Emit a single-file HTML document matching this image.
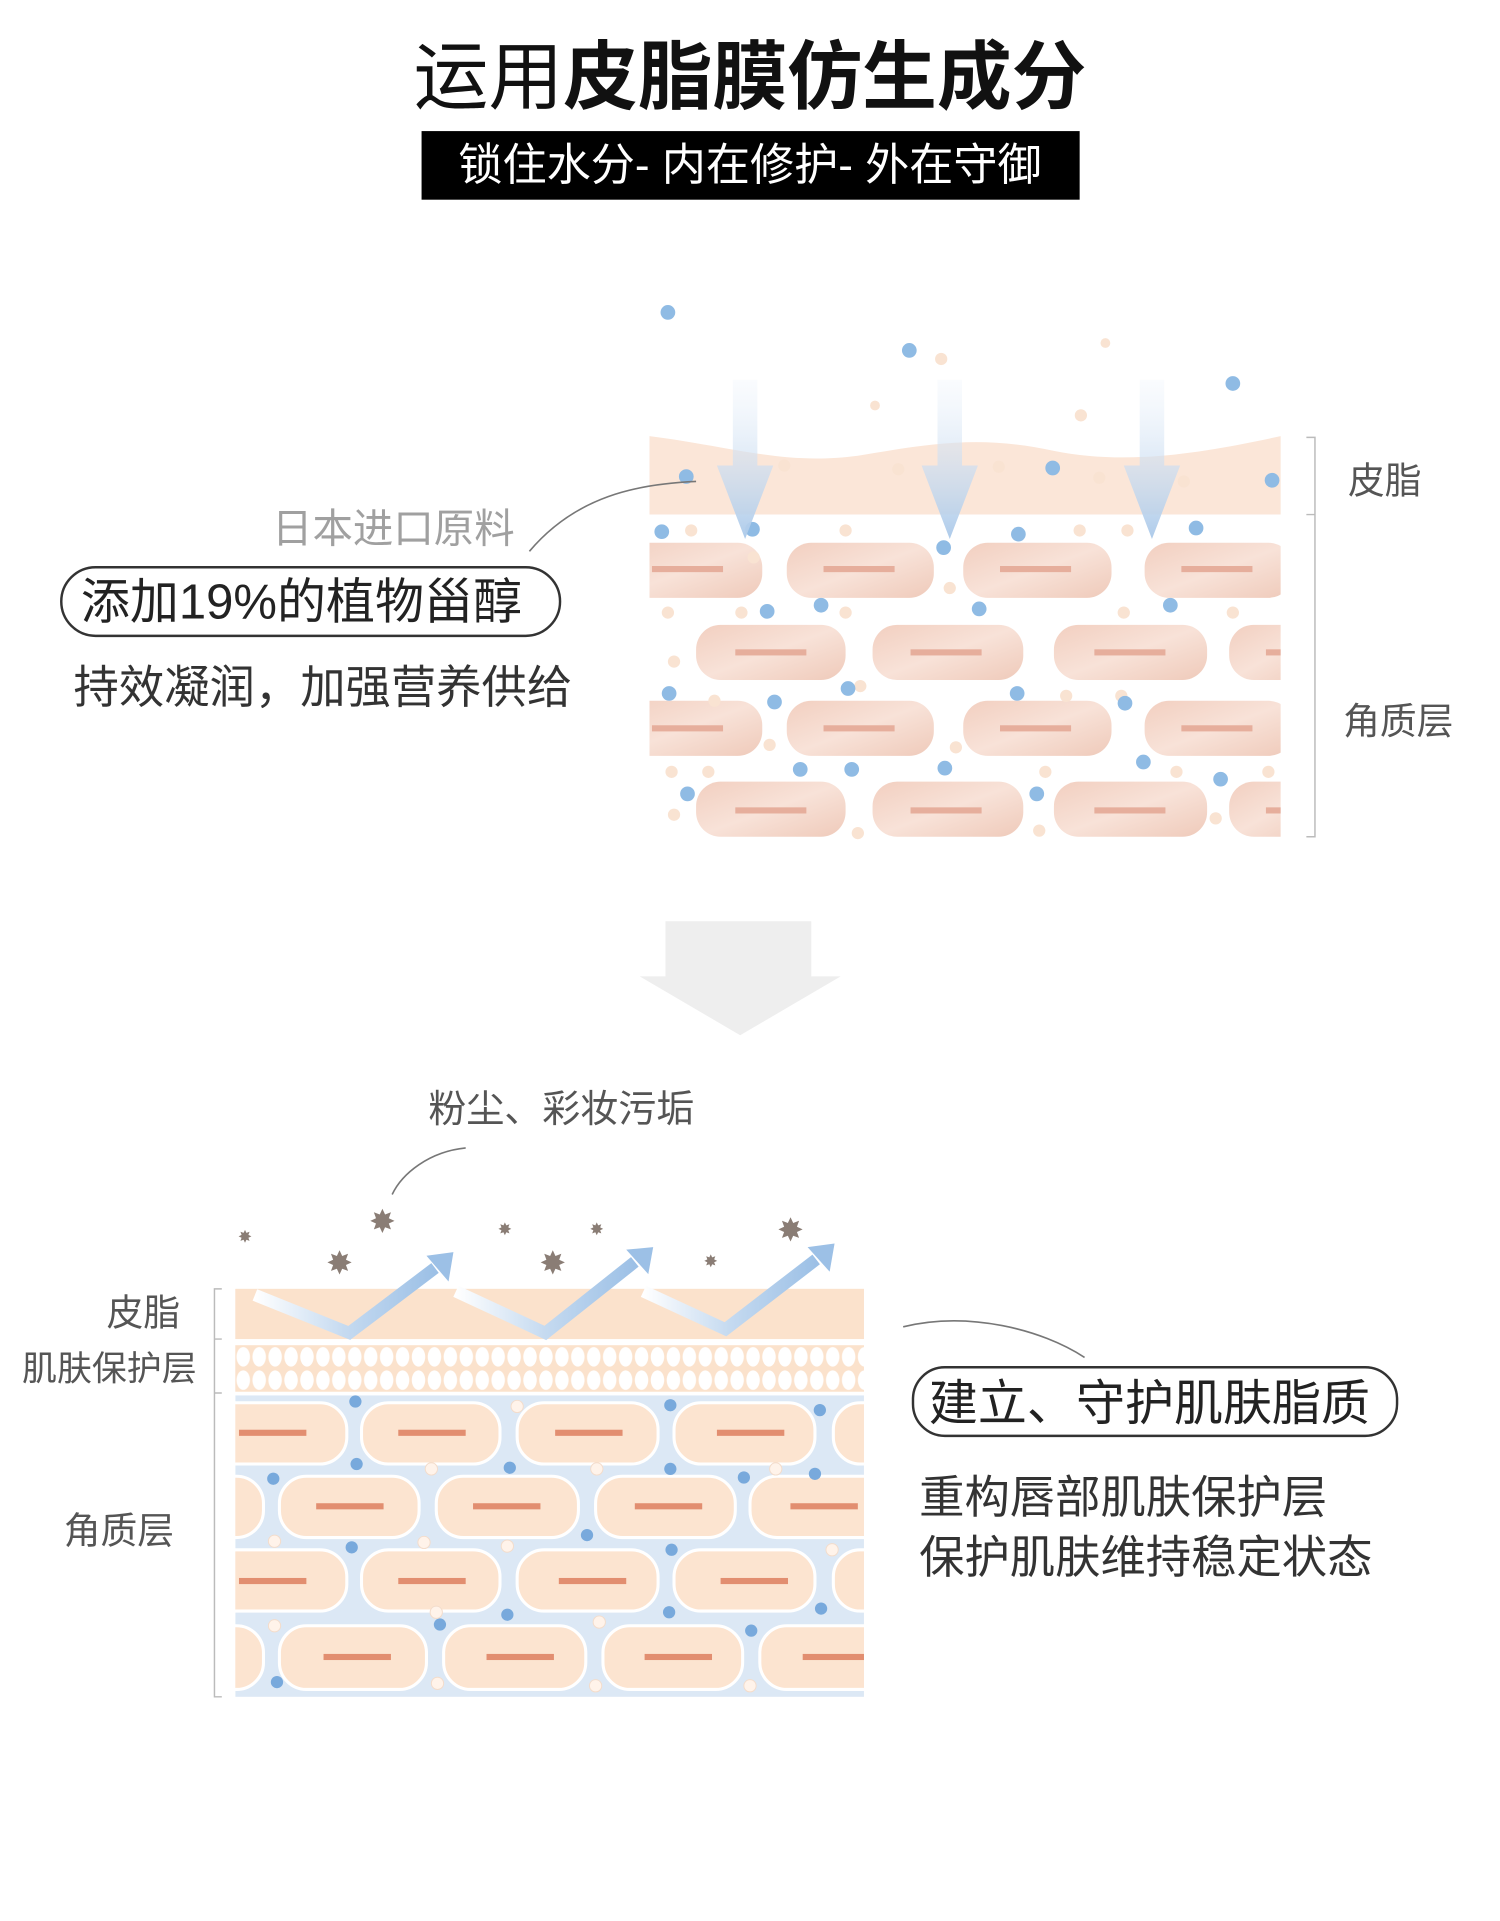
<!DOCTYPE html>
<html><head><meta charset="utf-8"><style>
html,body{margin:0;padding:0;background:#fff;}
svg{display:block;}
text{font-family:"Liberation Sans","Noto Sans CJK SC",sans-serif;}
</style></head><body>
<svg width="1500" height="1921" viewBox="0 0 1224 1568" preserveAspectRatio="none" xmlns="http://www.w3.org/2000/svg">
<defs>
<linearGradient id="cellg" x1="0" y1="0" x2="1" y2="1"><stop offset="0" stop-color="#f2cfc0"/><stop offset="0.5" stop-color="#f8e2d8"/><stop offset="1" stop-color="#efcaba"/></linearGradient>
<linearGradient id="arr" x1="0" y1="0" x2="0" y2="1"><stop offset="0" stop-color="#eef4fb" stop-opacity="0.3"/><stop offset="1" stop-color="#aecbea"/></linearGradient>
<linearGradient id="zz" x1="0" y1="0" x2="1" y2="0"><stop offset="0" stop-color="#ffffff"/><stop offset="0.5" stop-color="#c5daf0"/><stop offset="1" stop-color="#9cc0e6"/></linearGradient>
<pattern id="ov" x="192" y="1098" width="13" height="19" patternUnits="userSpaceOnUse"><rect width="13" height="19" fill="#fbe2cc"/><ellipse cx="6.5" cy="9.5" rx="5.5" ry="8" fill="#fff"/></pattern>
</defs>
<!-- Title -->
<text x="612" y="84" text-anchor="middle" font-size="61" fill="#111"><tspan>运用</tspan><tspan font-weight="bold">皮脂膜仿生成分</tspan></text>
<rect x="344" y="107" width="537" height="56" fill="#000"/>
<text x="612" y="147" text-anchor="middle" font-size="36" fill="#fff">锁住水分- 内在修护- 外在守御</text>

<!-- Top diagram -->
<path d="M530 356 C600 365 640 380 700 372 C760 362 800 355 860 368 C920 380 980 370 1045 356 L1045 420 L530 420 Z" fill="#fbe6d8"/>
<g fill="url(#cellg)">
<rect x="500" y="443" width="122" height="45" rx="20"/><rect x="642" y="443" width="120" height="45" rx="20"/><rect x="786" y="443" width="121" height="45" rx="20"/><rect x="934" y="443" width="121" height="45" rx="20"/>
<rect x="568" y="510" width="122" height="45" rx="20"/><rect x="712" y="510" width="123" height="45" rx="20"/><rect x="860" y="510" width="125" height="45" rx="20"/><rect x="1003" y="510" width="80" height="45" rx="20"/>
<rect x="500" y="572" width="122" height="45" rx="20"/><rect x="642" y="572" width="120" height="45" rx="20"/><rect x="786" y="572" width="121" height="45" rx="20"/><rect x="934" y="572" width="121" height="45" rx="20"/>
<rect x="568" y="638" width="122" height="45" rx="20"/><rect x="712" y="638" width="123" height="45" rx="20"/><rect x="860" y="638" width="125" height="45" rx="20"/><rect x="1003" y="638" width="80" height="45" rx="20"/>
</g>
<rect x="495" y="430" width="35" height="260" fill="#fff"/><rect x="1045" y="430" width="45" height="260" fill="#fff"/>
<g fill="#e6ae9c">
<rect x="532" y="462" width="58" height="5"/><rect x="672" y="462" width="58" height="5"/><rect x="816" y="462" width="58" height="5"/><rect x="964" y="462" width="58" height="5"/>
<rect x="600" y="530" width="58" height="5"/><rect x="743" y="530" width="58" height="5"/><rect x="893" y="530" width="58" height="5"/><rect x="1033" y="530" width="12" height="5"/>
<rect x="532" y="592" width="58" height="5"/><rect x="672" y="592" width="58" height="5"/><rect x="816" y="592" width="58" height="5"/><rect x="964" y="592" width="58" height="5"/>
<rect x="600" y="659" width="58" height="5"/><rect x="743" y="659" width="58" height="5"/><rect x="893" y="659" width="58" height="5"/><rect x="1033" y="659" width="12" height="5"/>
</g>
<g fill="#f9e3d2">
<circle cx="768" cy="293" r="5"/><circle cx="714" cy="331" r="4"/><circle cx="882" cy="339" r="5"/><circle cx="902" cy="280" r="4"/><circle cx="640" cy="380" r="5"/><circle cx="733" cy="383" r="5"/><circle cx="815" cy="381" r="5"/><circle cx="897" cy="390" r="5"/><circle cx="966" cy="393" r="5"/>
<circle cx="564" cy="433" r="5"/><circle cx="690" cy="433" r="5"/><circle cx="881" cy="433" r="5"/><circle cx="920" cy="433" r="5"/><circle cx="615" cy="455" r="5"/><circle cx="775" cy="480" r="5"/><circle cx="545" cy="500" r="5"/><circle cx="605" cy="500" r="5"/><circle cx="690" cy="500" r="5"/><circle cx="917" cy="500" r="5"/><circle cx="1006" cy="500" r="5"/><circle cx="550" cy="540" r="5"/><circle cx="702" cy="560" r="5"/><circle cx="583" cy="572" r="5"/><circle cx="870" cy="568" r="5"/><circle cx="915" cy="568" r="5"/><circle cx="628" cy="608" r="5"/><circle cx="780" cy="610" r="5"/><circle cx="548" cy="630" r="5"/><circle cx="578" cy="630" r="5"/><circle cx="853" cy="630" r="5"/><circle cx="960" cy="630" r="5"/><circle cx="1035" cy="630" r="5"/><circle cx="550" cy="665" r="5"/><circle cx="700" cy="680" r="5"/><circle cx="848" cy="678" r="5"/><circle cx="992" cy="668" r="5"/>
</g>
<g fill="#8fbbe4">
<circle cx="545" cy="255" r="6"/><circle cx="742" cy="286" r="6"/><circle cx="1006" cy="313" r="6"/><circle cx="859" cy="382" r="6"/><circle cx="560" cy="389" r="6"/><circle cx="1038" cy="392" r="6"/>
<circle cx="540" cy="434" r="6"/><circle cx="614" cy="432" r="6"/><circle cx="770" cy="447" r="6"/><circle cx="831" cy="436" r="6"/><circle cx="976" cy="431" r="6"/>
<circle cx="626" cy="499" r="6"/><circle cx="670" cy="494" r="6"/><circle cx="799" cy="497" r="6"/><circle cx="955" cy="494" r="6"/>
<circle cx="546" cy="566" r="6"/><circle cx="632" cy="573" r="6"/><circle cx="692" cy="562" r="6"/><circle cx="830" cy="566" r="6"/><circle cx="918" cy="574" r="6"/>
<circle cx="653" cy="628" r="6"/><circle cx="695" cy="628" r="6"/><circle cx="771" cy="627" r="6"/><circle cx="933" cy="622" r="6"/><circle cx="996" cy="636" r="6"/><circle cx="561" cy="648" r="6"/><circle cx="846" cy="648" r="6"/>
</g>
<g fill="url(#arr)">
<path d="M598 310 L618 310 L618 380 L631 380 L608 440 L585 380 L598 380 Z"/>
<path d="M765 310 L785 310 L785 380 L798 380 L775 440 L752 380 L765 380 Z"/>
<path d="M930 310 L950 310 L950 380 L963 380 L940 440 L917 380 L930 380 Z"/>
</g>
<g stroke="#bbb" stroke-width="1.2" fill="none">
<path d="M1066 357 H1073 V683 H1066 M1066 420 H1073"/>
</g>
<text x="1100" y="403" font-size="30" fill="#555">皮脂</text>
<text x="1096" y="599" font-size="30" fill="#555">角质层</text>
<text x="222" y="443" font-size="33" fill="#a0a0a0">日本进口原料</text>
<path d="M432 450 C470 405 520 395 568 393" stroke="#777" stroke-width="1.3" fill="none"/>
<rect x="50" y="463" width="407" height="56" rx="28" fill="#fff" stroke="#333" stroke-width="2"/>
<text x="66" y="505" font-size="40" fill="#222">添加19%的植物甾醇</text>
<text x="60" y="574" font-size="37" fill="#333">持效凝润，加强营养供给</text>

<!-- Big arrow -->
<path d="M543 752 H662 V797 H686 L604 845 L522 797 H543 Z" fill="#eeeeee"/>

<!-- Bottom -->
<text x="458" y="916" text-anchor="middle" font-size="31" fill="#555">粉尘、彩妆污垢</text>
<path d="M380 937 C350 940 328 958 320 975" stroke="#777" stroke-width="1.3" fill="none"/>
<rect x="192" y="1052" width="513" height="41" fill="#fbe2cc"/>
<rect x="192" y="1098" width="513" height="38" fill="url(#ov)"/>
<rect x="192" y="1139" width="513" height="246" fill="#dce8f5"/>
<g fill="#fce4d0" stroke="#fff" stroke-width="2.5">
<rect x="150" y="1145" width="133" height="50" rx="22"/><rect x="295" y="1145" width="113" height="50" rx="22"/><rect x="422" y="1145" width="115" height="50" rx="22"/><rect x="550" y="1145" width="115" height="50" rx="22"/><rect x="680" y="1145" width="60" height="50" rx="22"/>
<rect x="150" y="1205" width="65" height="50" rx="22"/><rect x="228" y="1205" width="114" height="50" rx="22"/><rect x="356" y="1205" width="116" height="50" rx="22"/><rect x="486" y="1205" width="114" height="50" rx="22"/><rect x="612" y="1205" width="120" height="50" rx="22"/>
<rect x="150" y="1265" width="133" height="50" rx="22"/><rect x="295" y="1265" width="113" height="50" rx="22"/><rect x="422" y="1265" width="115" height="50" rx="22"/><rect x="550" y="1265" width="115" height="50" rx="22"/><rect x="680" y="1265" width="60" height="50" rx="22"/>
<rect x="150" y="1327" width="65" height="52" rx="22"/><rect x="228" y="1327" width="120" height="52" rx="22"/><rect x="362" y="1327" width="116" height="52" rx="22"/><rect x="492" y="1327" width="114" height="52" rx="22"/><rect x="620" y="1327" width="120" height="52" rx="22"/>
</g>
<rect x="150" y="1139" width="42" height="250" fill="#fff"/><rect x="705" y="1139" width="40" height="250" fill="#fff"/>
<g fill="#e28e70">
<rect x="195" y="1167" width="55" height="5"/><rect x="325" y="1167" width="55" height="5"/><rect x="453" y="1167" width="55" height="5"/><rect x="585" y="1167" width="55" height="5"/>
<rect x="258" y="1227" width="55" height="5"/><rect x="386" y="1227" width="55" height="5"/><rect x="518" y="1227" width="55" height="5"/><rect x="645" y="1227" width="55" height="5"/>
<rect x="195" y="1288" width="55" height="5"/><rect x="325" y="1288" width="55" height="5"/><rect x="456" y="1288" width="55" height="5"/><rect x="588" y="1288" width="55" height="5"/>
<rect x="264" y="1350" width="55" height="5"/><rect x="397" y="1350" width="55" height="5"/><rect x="526" y="1350" width="55" height="5"/><rect x="655" y="1350" width="50" height="5"/>
</g>
<g fill="#78a9dc">
<circle cx="290" cy="1144" r="5"/><circle cx="547" cy="1147" r="5"/><circle cx="669" cy="1151" r="5"/><circle cx="291" cy="1195" r="5"/><circle cx="416" cy="1198" r="5"/><circle cx="547" cy="1199" r="5"/><circle cx="223" cy="1207" r="5"/><circle cx="607" cy="1206" r="5"/><circle cx="665" cy="1203" r="5"/><circle cx="287" cy="1263" r="5"/><circle cx="479" cy="1253" r="5"/><circle cx="548" cy="1265" r="5"/><circle cx="670" cy="1313" r="5"/><circle cx="414" cy="1318" r="5"/><circle cx="546" cy="1316" r="5"/><circle cx="359" cy="1326" r="5"/><circle cx="613" cy="1331" r="5"/><circle cx="226" cy="1373" r="5"/>
</g>
<g fill="#fff3ea" stroke="#f3dccb" stroke-width="0.8">
<circle cx="422" cy="1148" r="5"/><circle cx="352" cy="1199" r="5"/><circle cx="487" cy="1199" r="5"/><circle cx="633" cy="1199" r="5"/><circle cx="224" cy="1258" r="5"/><circle cx="346" cy="1259" r="5"/><circle cx="414" cy="1262" r="5"/><circle cx="679" cy="1265" r="5"/><circle cx="356" cy="1316" r="5"/><circle cx="224" cy="1327" r="5"/><circle cx="489" cy="1324" r="5"/><circle cx="357" cy="1374" r="5"/><circle cx="486" cy="1376" r="5"/><circle cx="612" cy="1376" r="5"/>
</g>
<g fill="none" stroke="url(#zz)" stroke-width="10" stroke-linejoin="miter">
<path d="M208 1057 L285 1088 L355 1035"/>
<path d="M372 1054 L445 1088 L518 1030"/>
<path d="M525 1054 L592 1085 L666 1028"/>
</g>
<g fill="#9cc0e6">
<path d="M348 1025 L370 1022 L366 1046 Z"/>
<path d="M511 1020 L533 1018 L529 1040 Z"/>
<path d="M659 1018 L681 1015 L677 1038 Z"/>
</g>
<g fill="#8a7d75">
<text x="200" y="1014" font-size="14" text-anchor="middle">✸</text>
<text x="312" y="1006" font-size="26" text-anchor="middle">✸</text>
<text x="277" y="1040" font-size="26" text-anchor="middle">✸</text>
<text x="412" y="1008" font-size="14" text-anchor="middle">✸</text>
<text x="487" y="1008" font-size="14" text-anchor="middle">✸</text>
<text x="451" y="1040" font-size="26" text-anchor="middle">✸</text>
<text x="580" y="1034" font-size="14" text-anchor="middle">✸</text>
<text x="645" y="1013" font-size="26" text-anchor="middle">✸</text>
</g>
<path d="M181 1052 H175 V1385 H181 M175 1093 H181 M175 1137 H181" stroke="#bbb" stroke-width="1.2" fill="none"/>
<text x="147" y="1082" font-size="30" fill="#555" text-anchor="end">皮脂</text>
<text x="18" y="1127" font-size="28.5" fill="#555">肌肤保护层</text>
<text x="52" y="1260" font-size="30" fill="#555">角质层</text>
<path d="M737 1083 C790 1070 850 1085 885 1108" stroke="#777" stroke-width="1.3" fill="none"/>
<rect x="745" y="1116" width="395" height="56" rx="26" fill="#fff" stroke="#333" stroke-width="2"/>
<text x="758" y="1159" font-size="40" fill="#222">建立、守护肌肤脂质</text>
<text x="750" y="1235" font-size="37" fill="#333">重构唇部肌肤保护层</text>
<text x="750" y="1284" font-size="37" fill="#333">保护肌肤维持稳定状态</text>
</svg>
</body></html>
